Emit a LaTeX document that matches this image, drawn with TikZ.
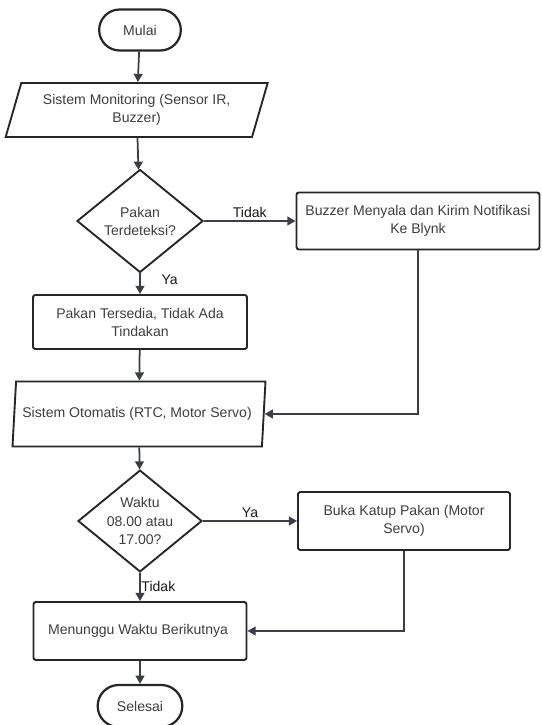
\documentclass[tikz,border=0pt]{standalone}
\usepackage{fontspec}
\setmainfont{Liberation Sans}
\usetikzlibrary{shapes.geometric,shapes.misc,arrows.meta}
\definecolor{linegray}{RGB}{58,62,70}
\definecolor{textgray}{RGB}{62,62,62}

\begin{document}
\begin{tikzpicture}
\useasboundingbox (0,0) rectangle (16.26,21.75);
% Flowchart styles
\tikzstyle{flow_base} = [draw=black!85, line width=1.6pt, text=textgray, align=center, font=\fontsize{12}{15.4}\selectfont, inner sep=1pt]
\tikzstyle{flow_term} = [flow_base, rounded rectangle, line width=1.9pt]
\tikzstyle{flow_box} = [flow_base, rectangle, rounded corners=2pt]
\tikzstyle{flow_io} = [flow_base, trapezium, trapezium stretches body, inner xsep=0pt]
\tikzstyle{flow_dec} = [flow_base, diamond, aspect=1.2, inner sep=0pt]
\tikzstyle{flow_line} = [draw=linegray, line width=1.5pt, -{Triangle[length=7pt,width=7.5pt]}]
\tikzstyle{flow_label} = [font=\fontsize{12}{14}\selectfont, text=black!90, inner sep=2pt]

% Main column
\node[flow_term, minimum width=2.52cm, minimum height=1.23cm] (mulai) at (4.2,20.85) {Mulai};

\node[flow_io, trapezium left angle=65, trapezium right angle=115, minimum width=7.86cm, minimum height=1.62cm] (monitoring) at (4.1,18.45) {
    Sistem Monitoring (Sensor IR,\\
    Buzzer)
};

\node[flow_dec, minimum width=3.78cm, minimum height=3.09cm] (cekpakan) at (4.2,15.12) {
    Pakan\\
    Terdeteksi?
};

\node[flow_box, minimum width=6.42cm, minimum height=1.62cm] (tersedia) at (4.2,12.09) {
    Pakan Tersedia, Tidak Ada\\
    Tindakan
};

\node[flow_io, trapezium left angle=77, trapezium right angle=103, minimum width=7.59cm, minimum height=1.95cm] (otomatis) at (4.17,9.33) {
    Sistem Otomatis (RTC, Motor Servo)
};

\node[flow_dec, minimum width=3.72cm, minimum height=3.0cm] (cekwaktu) at (4.2,6.12) {
    Waktu\\
    08.00 atau\\
    17.00?
};

\node[flow_box, minimum width=6.39cm, minimum height=1.74cm] (menunggu) at (4.2,2.82) {
    Menunggu Waktu Berikutnya
};

\node[flow_term, minimum width=2.61cm, minimum height=1.26cm] (selesai) at (4.2,0.57) {Selesai};

% Side branches
\node[flow_box, minimum width=7.29cm, minimum height=1.71cm] (notifikasi) at (12.54,15.12) {
    Buzzer Menyala dan Kirim Notifikasi\\
    Ke Blynk
};

\node[flow_box, minimum width=6.36cm, minimum height=1.74cm] (katup) at (12.12,6.12) {
    Buka Katup Pakan (Motor\\
    Servo)
};

% Connections
\draw[flow_line] (mulai) -- (monitoring);
\draw[flow_line] (monitoring) -- (cekpakan);
\draw[flow_line] (cekpakan) -- node[flow_label, above] {Tidak} (notifikasi);
\draw[flow_line] (cekpakan) -- node[flow_label, right, pos=0.3, xshift=0.55cm] {Ya} (tersedia);
\draw[flow_line] (tersedia) -- (otomatis);
\draw[flow_line] (notifikasi.south) |- (otomatis.east);
\draw[flow_line] (otomatis) -- (cekwaktu);
\draw[flow_line] (cekwaktu) -- node[flow_label, above] {Ya} (katup);
\draw[flow_line] (cekwaktu) -- node[flow_label, right, inner sep=0.5pt] {Tidak} (menunggu);
\draw[flow_line] (katup.south) |- (menunggu.east);
\draw[flow_line] (menunggu) -- (selesai);
\end{tikzpicture}
\end{document}
